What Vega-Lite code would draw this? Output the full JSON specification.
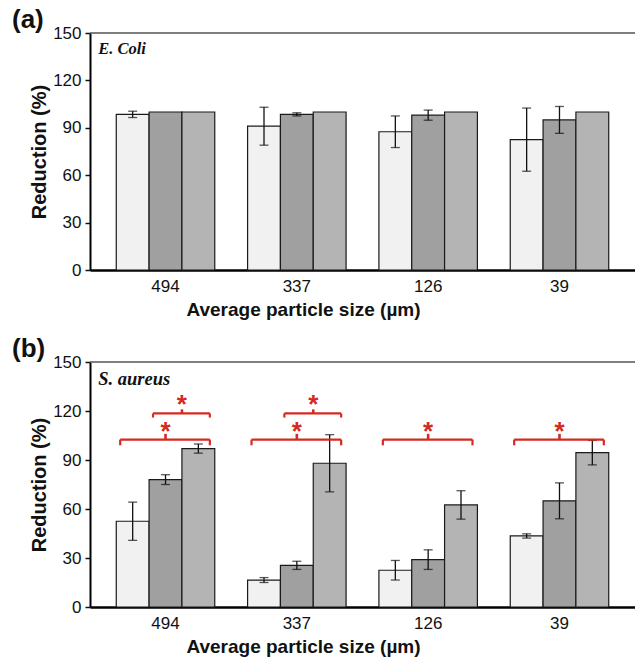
{
  "$schema": "https://vega.github.io/schema/vega-lite/v6.json",
  "padding": {"left": 12, "top": 7, "right": 0, "bottom": 4},
  "autosize": {"type": "pad"},
  "spacing": 17,
  "config": {
    "view": {"stroke": null},
    "axis": {"labelFont": "Liberation Sans", "titleFont": "Liberation Sans", "labelColor": "#111", "titleColor": "#111", "domainColor": "#111", "tickColor": "#111", "grid": false},
    "title": {"font": "Liberation Sans", "fontWeight": "bold", "fontSize": 26, "color": "#111"}
  },
  "datasets": {
    "bars_a": [
      {"size": "494", "bar": "494-A", "series": "A", "mean": 98.5, "err": 2},
      {"size": "494", "bar": "494-B", "series": "B", "mean": 100, "err": 0},
      {"size": "494", "bar": "494-C", "series": "C", "mean": 100, "err": 0},
      {"size": "337", "bar": "337-A", "series": "A", "mean": 91, "err": 12},
      {"size": "337", "bar": "337-B", "series": "B", "mean": 98.5, "err": 1},
      {"size": "337", "bar": "337-C", "series": "C", "mean": 100, "err": 0},
      {"size": "126", "bar": "126-A", "series": "A", "mean": 87.5, "err": 10},
      {"size": "126", "bar": "126-B", "series": "B", "mean": 98, "err": 3.2},
      {"size": "126", "bar": "126-C", "series": "C", "mean": 100, "err": 0},
      {"size": "39", "bar": "39-A", "series": "A", "mean": 82.5, "err": 20},
      {"size": "39", "bar": "39-B", "series": "B", "mean": 95, "err": 8.5},
      {"size": "39", "bar": "39-C", "series": "C", "mean": 100, "err": 0}
    ],
    "bars_b": [
      {"size": "494", "bar": "494-A", "series": "A", "mean": 52.5, "err": 11.7},
      {"size": "494", "bar": "494-B", "series": "B", "mean": 78, "err": 3},
      {"size": "494", "bar": "494-C", "series": "C", "mean": 97, "err": 2.8},
      {"size": "337", "bar": "337-A", "series": "A", "mean": 16.5, "err": 1.5},
      {"size": "337", "bar": "337-B", "series": "B", "mean": 25.5, "err": 2.5},
      {"size": "337", "bar": "337-C", "series": "C", "mean": 88, "err": 17.5},
      {"size": "126", "bar": "126-A", "series": "A", "mean": 22.5, "err": 6},
      {"size": "126", "bar": "126-B", "series": "B", "mean": 29, "err": 6},
      {"size": "126", "bar": "126-C", "series": "C", "mean": 62.5, "err": 8.7},
      {"size": "39", "bar": "39-A", "series": "A", "mean": 43.5, "err": 1.3},
      {"size": "39", "bar": "39-B", "series": "B", "mean": 65, "err": 11},
      {"size": "39", "bar": "39-C", "series": "C", "mean": 94.5, "err": 7.5}
    ],
    "brackets": [
      {"kind": "big", "from": "494-A", "to": "494-C", "mid": "494-B", "level": 102.5, "tip": 99, "notch": 106},
      {"kind": "small", "from": "494-B", "to": "494-C", "mid": "494-C", "level": 118.5, "tip": 116, "notch": 121},
      {"kind": "big", "from": "337-A", "to": "337-C", "mid": "337-B", "level": 102.5, "tip": 99, "notch": 106},
      {"kind": "small", "from": "337-B", "to": "337-C", "mid": "337-C", "level": 118.5, "tip": 116, "notch": 121},
      {"kind": "big", "from": "126-A", "to": "126-C", "mid": "126-B", "level": 102.5, "tip": 99, "notch": 106},
      {"kind": "big", "from": "39-A", "to": "39-C", "mid": "39-B", "level": 102.5, "tip": 99, "notch": 106}
    ]
  },
  "vconcat": [
    {
      "width": 545,
      "height": 237,
      "title": {"text": "(a)", "anchor": "start", "frame": "group", "dx": -78, "offset": -30, "baseline": "alphabetic"},
      "layer": [
        {
          "data": {"name": "bars_a"},
          "mark": {"type": "bar", "stroke": "#1a1a1a", "strokeWidth": 1.2},
          "encoding": {
            "x": {"field": "bar", "type": "nominal", "title": "Average particle size (µm)",
              "scale": {"domain": ["494-A","494-B","494-C","g1","337-A","337-B","337-C","g2","126-A","126-B","126-C","g3","39-A","39-B","39-C"], "paddingInner": 0, "paddingOuter": 0.8},
              "axis": {"labelExpr": "indexof(datum.value, '-B') > 0 ? replace(datum.value, '-B', '') : ''", "labelAngle": 0, "labelOverlap": false, "ticks": false, "domainWidth": 2.5, "domainColor": "#000", "labelFontSize": 17, "labelPadding": 8, "titleFontSize": 19, "titleFontWeight": "bold", "titlePadding": 6, "titleX": 213}},
            "y": {"field": "mean", "type": "quantitative", "title": "Reduction (%)",
              "scale": {"domain": [0, 150], "nice": false},
              "axis": {"values": [0, 30, 60, 90, 120, 150], "titleFontSize": 20, "titleFontWeight": "bold", "labelFontSize": 17, "tickSize": 5, "tickWidth": 1.5, "domainWidth": 2, "domainColor": "#000", "labelPadding": 4, "titlePadding": 3}},
            "color": {"field": "series", "type": "nominal", "legend": null, "scale": {"domain": ["A", "B", "C"], "range": ["#f1f1f1", "#a0a0a0", "#b4b4b4"]}}
          }
        },
        {
          "data": {"name": "bars_a"},
          "transform": [{"filter": "datum.err > 0"}],
          "mark": {"type": "errorbar", "color": "#111", "thickness": 1.3, "ticks": {"size": 9, "color": "#111", "thickness": 1.3}},
          "encoding": {
            "x": {"field": "bar", "type": "nominal", "title": "Average particle size (µm)"},
            "y": {"field": "mean", "type": "quantitative", "title": "Reduction (%)"},
            "yError": {"field": "err"}
          }
        },
        {
          "data": {"values": [{}]},
          "mark": {"type": "rule", "color": "#555", "strokeWidth": 1.5},
          "encoding": {"y": {"datum": 150, "type": "quantitative"}}
        },
        {
          "data": {"values": [{"label": "E. Coli"}]},
          "mark": {"type": "text", "font": "Liberation Serif", "fontStyle": "italic", "fontWeight": "bold", "fontSize": 16.5, "align": "left", "baseline": "alphabetic", "dx": -18, "color": "#111"},
          "encoding": {
            "x": {"datum": "494-A", "type": "nominal", "bandPosition": 0},
            "y": {"datum": 137, "type": "quantitative"},
            "text": {"field": "label"}
          }
        }
      ]
    },
    {
      "width": 545,
      "height": 245,
      "title": {"text": "(b)", "anchor": "start", "frame": "group", "dx": -78, "offset": -30, "baseline": "alphabetic"},
      "layer": [
        {
          "data": {"name": "bars_b"},
          "mark": {"type": "bar", "stroke": "#1a1a1a", "strokeWidth": 1.2},
          "encoding": {
            "x": {"field": "bar", "type": "nominal", "title": "Average particle size (µm)",
              "scale": {"domain": ["494-A","494-B","494-C","g1","337-A","337-B","337-C","g2","126-A","126-B","126-C","g3","39-A","39-B","39-C"], "paddingInner": 0, "paddingOuter": 0.8},
              "axis": {"labelExpr": "indexof(datum.value, '-B') > 0 ? replace(datum.value, '-B', '') : ''", "labelAngle": 0, "labelOverlap": false, "ticks": false, "domainWidth": 2.5, "domainColor": "#000", "labelFontSize": 17, "labelPadding": 8, "titleFontSize": 19, "titleFontWeight": "bold", "titlePadding": 6, "titleX": 213}},
            "y": {"field": "mean", "type": "quantitative", "title": "Reduction (%)",
              "scale": {"domain": [0, 150], "nice": false},
              "axis": {"values": [0, 30, 60, 90, 120, 150], "titleFontSize": 20, "titleFontWeight": "bold", "labelFontSize": 17, "tickSize": 5, "tickWidth": 1.5, "domainWidth": 2, "domainColor": "#000", "labelPadding": 4, "titlePadding": 3}},
            "color": {"field": "series", "type": "nominal", "legend": null, "scale": {"domain": ["A", "B", "C"], "range": ["#f1f1f1", "#a0a0a0", "#b4b4b4"]}}
          }
        },
        {
          "data": {"name": "bars_b"},
          "transform": [{"filter": "datum.err > 0"}],
          "mark": {"type": "errorbar", "color": "#111", "thickness": 1.3, "ticks": {"size": 9, "color": "#111", "thickness": 1.3}},
          "encoding": {
            "x": {"field": "bar", "type": "nominal", "title": "Average particle size (µm)"},
            "y": {"field": "mean", "type": "quantitative", "title": "Reduction (%)"},
            "yError": {"field": "err"}
          }
        },
        {
          "data": {"values": [{}]},
          "mark": {"type": "rule", "color": "#555", "strokeWidth": 1.5},
          "encoding": {"y": {"datum": 150, "type": "quantitative"}}
        },
        {
          "data": {"values": [{"label": "S. aureus"}]},
          "mark": {"type": "text", "font": "Liberation Serif", "fontStyle": "italic", "fontWeight": "bold", "fontSize": 18.5, "align": "left", "baseline": "alphabetic", "dx": -18, "color": "#111"},
          "encoding": {
            "x": {"datum": "494-A", "type": "nominal", "bandPosition": 0},
            "y": {"datum": 136, "type": "quantitative"},
            "text": {"field": "label"}
          }
        },
        {
          "data": {"name": "brackets"},
          "mark": {"type": "rule", "color": "#d42a1f", "strokeWidth": 2.2},
          "encoding": {
            "x": {"field": "from", "type": "nominal", "bandPosition": 0.12},
            "x2": {"field": "to", "bandPosition": 0.85},
            "y": {"field": "level", "type": "quantitative"}
          }
        },
        {
          "data": {"name": "brackets"},
          "mark": {"type": "rule", "color": "#d42a1f", "strokeWidth": 2.2},
          "encoding": {
            "x": {"field": "from", "type": "nominal", "bandPosition": 0.12},
            "y": {"field": "level", "type": "quantitative"},
            "y2": {"field": "tip"}
          }
        },
        {
          "data": {"name": "brackets"},
          "mark": {"type": "rule", "color": "#d42a1f", "strokeWidth": 2.2},
          "encoding": {
            "x": {"field": "to", "type": "nominal", "bandPosition": 0.85},
            "y": {"field": "level", "type": "quantitative"},
            "y2": {"field": "tip"}
          }
        },
        {
          "data": {"name": "brackets"},
          "transform": [{"filter": "datum.kind == 'big'"}],
          "mark": {"type": "rule", "color": "#d42a1f", "strokeWidth": 2.6},
          "encoding": {
            "x": {"field": "mid", "type": "nominal", "bandPosition": 0.5},
            "y": {"field": "level", "type": "quantitative"},
            "y2": {"field": "notch"}
          }
        },
        {
          "data": {"name": "brackets"},
          "transform": [{"filter": "datum.kind == 'small'"}],
          "mark": {"type": "rule", "color": "#d42a1f", "strokeWidth": 2.6},
          "encoding": {
            "x": {"field": "mid", "type": "nominal", "bandPosition": 0},
            "y": {"field": "level", "type": "quantitative"},
            "y2": {"field": "notch"}
          }
        },
        {
          "data": {"name": "brackets"},
          "transform": [{"filter": "datum.kind == 'big'"}],
          "mark": {"type": "text", "text": "*", "color": "#d42a1f", "font": "Liberation Sans", "fontWeight": "bold", "fontSize": 26, "align": "center", "baseline": "alphabetic"},
          "encoding": {
            "x": {"field": "mid", "type": "nominal", "bandPosition": 0.5},
            "y": {"field": "level", "type": "quantitative"}
          }
        },
        {
          "data": {"name": "brackets"},
          "transform": [{"filter": "datum.kind == 'small'"}],
          "mark": {"type": "text", "text": "*", "color": "#d42a1f", "font": "Liberation Sans", "fontWeight": "bold", "fontSize": 26, "align": "center", "baseline": "alphabetic"},
          "encoding": {
            "x": {"field": "mid", "type": "nominal", "bandPosition": 0},
            "y": {"field": "level", "type": "quantitative"}
          }
        }
      ]
    }
  ]
}
